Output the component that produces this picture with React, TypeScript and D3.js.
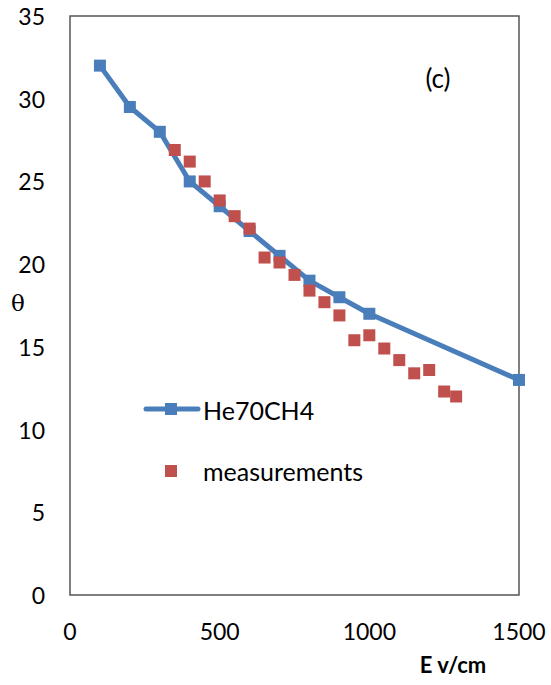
import React from "react";
import * as d3 from "d3";

const modelE = [100, 200, 300, 400, 500, 600, 700, 800, 900, 1000, 1500];
const modelTheta = [32, 29.5, 28, 25, 23.5, 22, 20.5, 19, 18, 17, 13];

const measE = [350, 400, 450, 500, 550, 600, 650, 700, 750, 800, 850, 900, 950, 1000, 1050, 1100, 1150, 1200, 1250, 1290];
const measTheta = [26.9, 26.2, 25.0, 23.85, 22.9, 22.15, 20.4, 20.1, 19.35, 18.4, 17.7, 16.9, 15.4, 15.7, 14.9, 14.2, 13.4, 13.6, 12.3, 12.0];

const xTicks = [0, 500, 1000, 1500];
const yTicks = [0, 5, 10, 15, 20, 25, 30, 35];

const BLUE = "#4A7EBB";
const RED = "#C0504D";
const FONT = "Lato, 'Open Sans', sans-serif";

export default function App() {
  const W = 551, H = 685;
  const left = 70, right = 519, top = 16, bottom = 595;
  const x = d3.scaleLinear().domain([0, 1500]).range([left, right]);
  const y = d3.scaleLinear().domain([0, 35]).range([bottom, top]);
  const line = d3.line<number>().x((d, i) => x(modelE[i])).y((d) => y(d));
  const ms = 12;

  return (
    <svg width={W} height={H} style={{ position: "absolute", left: 0, top: 0 }}>
      <rect x={0} y={0} width={W} height={H} fill="#fff" />
      <rect x={left} y={top} width={right - left} height={bottom - top} fill="none" stroke="#555" strokeWidth={1.5} />
      {yTicks.map((t) => (
        <text key={t} x={45} y={y(t)} textAnchor="end" dominantBaseline="central" fontFamily={FONT} fontSize={23} fill="#000">
          {t}
        </text>
      ))}
      {xTicks.map((t) => (
        <text key={t} x={x(t)} y={631} textAnchor="middle" dominantBaseline="central" fontFamily={FONT} fontSize={23} fill="#000">
          {t}
        </text>
      ))}
      <text x={18} y={303} textAnchor="middle" dominantBaseline="central" fontFamily="'DejaVu Serif', 'Liberation Serif', serif" fontSize={23}>θ</text>
      <text x={453} y={664} textAnchor="middle" dominantBaseline="central" fontFamily={FONT} fontSize={22} fontWeight="bold">E v/cm</text>
      <text x={438} y={78} textAnchor="middle" dominantBaseline="central" fontFamily={FONT} fontSize={26}>(c)</text>

      <path d={line(modelTheta) || ""} fill="none" stroke={BLUE} strokeWidth={5} strokeLinejoin="round" />
      {modelTheta.map((v, i) => (
        <rect key={"m" + i} x={x(modelE[i]) - ms / 2} y={y(v) - ms / 2} width={ms} height={ms} fill={BLUE} />
      ))}
      {measTheta.map((v, i) => (
        <rect key={"r" + i} x={x(measE[i]) - ms / 2} y={y(v) - ms / 2} width={ms} height={ms} fill={RED} />
      ))}

      <line x1={146} x2={198} y1={409} y2={409} stroke={BLUE} strokeWidth={5} strokeLinecap="round" />
      <rect x={171 - ms / 2} y={409 - ms / 2} width={ms} height={ms} fill={BLUE} />
      <text x={203} y={410} dominantBaseline="central" fontFamily={FONT} fontSize={25}>He70CH4</text>
      <rect x={171 - ms / 2} y={471 - ms / 2} width={ms} height={ms} fill={RED} />
      <text x={203} y={471} dominantBaseline="central" fontFamily={FONT} fontSize={25}>measurements</text>
    </svg>
  );
}
